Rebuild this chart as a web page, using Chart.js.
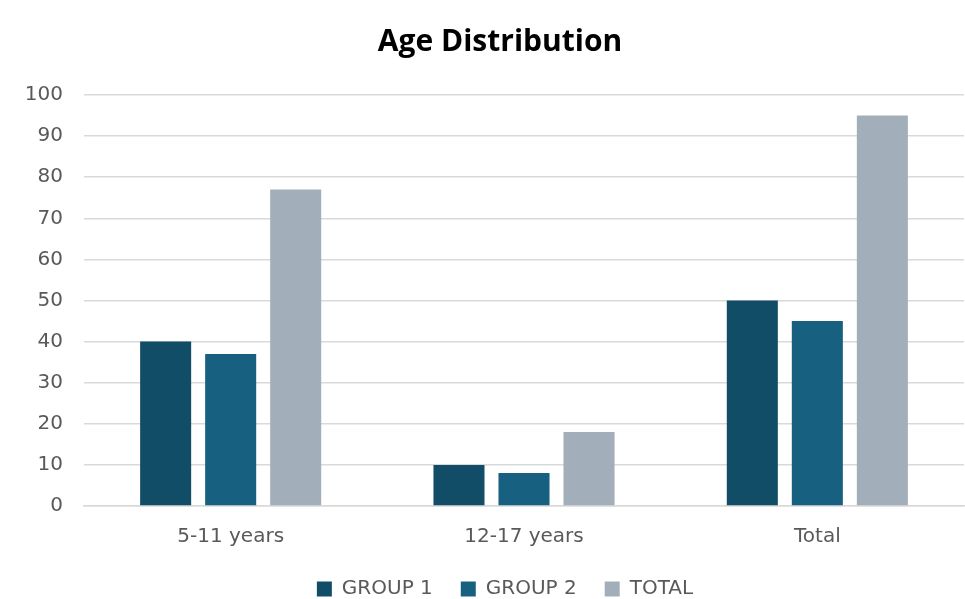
<!DOCTYPE html>
<html>
<head>
<meta charset="utf-8">
<script src="https://cdn.jsdelivr.net/npm/chart.js@4/dist/chart.umd.min.js"></script>
<style>
  html, body { margin: 0; padding: 0; background: #ffffff; }
  #wrap { width: 965px; height: 599px; }
</style>
</head>
<body>
<div id="wrap"><canvas id="c" width="965" height="599"></canvas></div>
<script>
// Age groups on the x axis
const categories = ['5-11 years', '12-17 years', 'Total'];
// Participant counts per group
const group1 = [40, 10, 50];
const group2 = [37, 8, 45];
const total = [77, 18, 95];
const seriesNames = ['GROUP 1', 'GROUP 2', 'TOTAL'];
const yTicks = [0, 10, 20, 30, 40, 50, 60, 70, 80, 90, 100];

const colors = ['#114D66', '#17607F', '#A2AFBA'];
const tickFont = { family: '"DejaVu Sans", sans-serif', size: 20 };

// Nudge title and legend towards the centre of the plotting area
const centreOnPlot = {
  id: 'centreOnPlot',
  afterLayout(chart) {
    const t = chart.titleBlock;
    if (t) { t.left += 18; t.right += 18; }
    const l = chart.legend;
    if (l) { l.left += 23; l.right += 23; }
  }
};

new Chart(document.getElementById('c'), {
  type: 'bar',
  data: {
    labels: categories,
    datasets: [group1, group2, total].map((d, i) => ({
      label: seriesNames[i],
      data: d,
      backgroundColor: colors[i],
      borderWidth: 0,
      categoryPercentage: 0.665,
      barPercentage: 0.785
    }))
  },
  plugins: [centreOnPlot],
  options: {
    responsive: false,
    animation: false,
    layout: { padding: { left: 0, right: 1, top: 0, bottom: -10 } },
    plugins: {
      title: {
        display: true,
        text: 'Age Distribution',
        color: '#000000',
        font: { family: '"Open Sans", sans-serif', size: 30, weight: 'bold' },
        padding: { top: 24, bottom: 35 }
      },
      legend: {
        position: 'bottom',
        labels: {
          color: '#595959',
          font: tickFont,
          boxWidth: 15,
          boxHeight: 15,
          padding: 28
        }
      },
      tooltip: { enabled: false }
    },
    scales: {
      x: {
        grid: { display: false },
        border: { display: true, color: '#D9D9D9', width: 1.5 },
        ticks: { color: '#595959', font: tickFont, padding: 11 },
        afterFit: s => { s.height = 45; }
      },
      y: {
        min: 0,
        max: 100,
        afterBuildTicks: s => { s.ticks = yTicks.map(v => ({ value: v })); },
        grid: { color: '#D9D9D9', lineWidth: 1.5, drawTicks: false },
        border: { display: false },
        ticks: { color: '#595959', font: tickFont, padding: 21 },
        afterFit: s => { s.width = 84; }
      }
    }
  }
});
</script>
</body>
</html>
